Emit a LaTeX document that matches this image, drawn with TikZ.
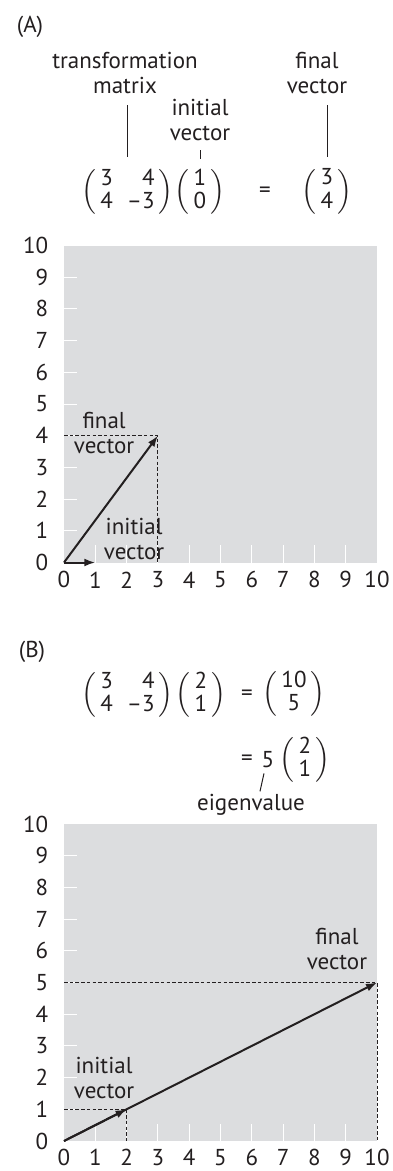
\documentclass[tikz,border=0pt]{standalone}
\usepackage{amsmath}
\usepackage{fontspec}
\setmainfont{PT Sans}
\usetikzlibrary{arrows.meta,calc,positioning}
\definecolor{ink}{HTML}{231F20}
\definecolor{panel}{HTML}{DCDDDF}
\newcommand{\figfont}{\fontsize{23}{25}\selectfont}
\newcommand{\colvec}[2]{$\left(\,\vcenter{\hbox{\renewcommand{\arraystretch}{0.92}\begin{tabular}{@{}c@{}}#1\\#2\end{tabular}}}\,\right)$}
\newcommand{\trmat}{$\left(\,\vcenter{\hbox{\renewcommand{\arraystretch}{0.92}\begin{tabular}{@{}c@{\hspace{14pt}}r@{}}3&4\\4&–3\end{tabular}}}\,\right)$}
\tikzset{txt/.style={font=\figfont,text=ink,align=center,inner sep=0pt},num/.style={font=\figfont,text=ink,inner sep=0pt},leader/.style={draw=ink,line width=1pt},tickmark/.style={draw=white,line width=1pt},guide/.style={draw=ink,line width=.9pt,dash pattern=on 3.5pt off 2.2pt},vec/.style={draw=ink,line width=2pt,-{Latex[length=11pt,width=8pt]}}}

\begin{document}
\begin{tikzpicture}[x=1pt,y=-1pt]
\useasboundingbox (0,0) rectangle (392,1171);
\node[txt] (tagA) at (30,27) {(A)};
\node[txt] (tmat) at (125,73) {transformation\\matrix};
\node[txt] (ivecA) at (200,120) {initial\\vector};
\node[txt] (fvecA) at (317,73) {final\\vector};
\node[txt] (matA) at (127.5,192) {\trmat};
\node[txt] (inA) at (200,192) {\colvec{1}{0}};
\node[txt] (eqA) at (265,192) {=};
\node[txt] (outA) at (327,192) {\colvec{3}{4}};
\draw[leader] (matA.north) +(0,-12) -- +(0,-64);
\draw[leader] (inA.north) +(0,-10) -- +(0,-19);
\draw[leader] (outA.north) +(0,-12) -- +(0,-64);
\begin{scope}[shift={(64,562.5)},x=31.3pt,y=31.7pt]
\fill[panel] (0,0) rectangle (10,10);
\foreach \k in {1,...,9}{\draw[tickmark] (0,\k)--(0.42,\k) (\k,0)--(\k,0.55);}
\foreach \k in {0,...,10}{\node[num,anchor=east] at (-0.5,\k) {\k}; \node[num] at (\k,-0.55) {\k};}
\coordinate (oA) at (0,0); \coordinate (pA) at (3,4); \coordinate (qA) at (1,0);
\draw[guide] (0,4) -| (3,0);
\draw[vec] (oA)--(pA);
\draw[vec] (oA)--(qA);
\node[txt] (finA) at (1.28,4.07) {final\\vector};
\node[txt] (iniA) at (2.24,0.73) {initial\\vector};
\end{scope}
\node[txt] (tagB) at (32,652) {(B)};
\node[txt] (matB) at (127.5,695) {\trmat};
\node[txt] (inB) at (201,695) {\colvec{2}{1}};
\node[txt] (eqB) at (247,695) {=};
\node[txt] (outB) at (294,694) {\colvec{10}{5}};
\node[txt] (eqC) at (247,760) {=};
\node[txt] (five) at (268,760) {5};
\node[txt] (outC) at (305,760) {\colvec{2}{1}};
\node[txt,anchor=base] (eig) at (251,810) {eigenvalue};
\draw[leader] (five.south) +(-4,5) -- +(-8,23);
\begin{scope}[shift={(64,1141)},x=31.3pt,y=31.7pt]
\fill[panel] (0,0) rectangle (10,10);
\foreach \k in {1,...,9}{\draw[tickmark] (0,\k)--(0.42,\k) (\k,0)--(\k,0.55);}
\foreach \k in {0,...,10}{\node[num,anchor=east] at (-0.5,\k) {\k}; \node[num] at (\k,-0.52) {\k};}
\coordinate (oB) at (0,0); \coordinate (pB) at (10,5); \coordinate (qB) at (2,1);
\draw[guide] (0,1) -| (2,0);
\draw[guide] (0,5) -| (10,0);
\draw[vec] (oB)--(pB);
\draw[vec] (oB)--(qB);
\node[txt] (finB) at (8.72,6.07) {final\\vector};
\node[txt] (iniB) at (1.28,1.99) {initial\\vector};
\end{scope}
\end{tikzpicture}
\end{document}
